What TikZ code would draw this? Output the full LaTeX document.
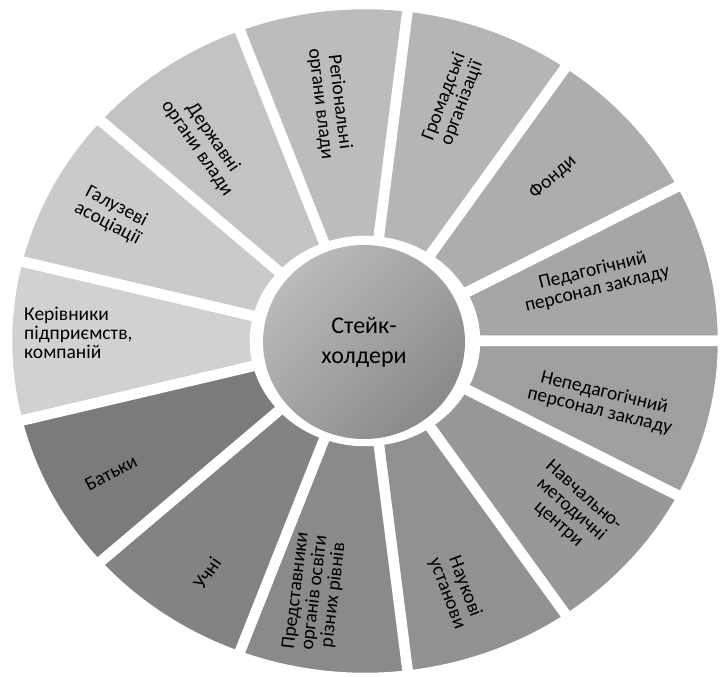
\documentclass[tikz,border=0pt]{standalone}
\usepackage{fontspec}
\setmainfont{Carlito}
\usetikzlibrary{shapes.geometric}

\tikzset{
  seg/.style={draw=white, line width=10.5pt},
  lbl/.style={align=center, inner sep=0pt, font=\fontsize{19.5}{19}\selectfont},
  hub/.style={ellipse, minimum width=202pt, minimum height=194pt, inner sep=0pt,
    top color=black!27, bottom color=black!46, shading angle=45,
    align=center, font=\fontsize{24}{30}\selectfont}
}

\begin{document}
\begin{tikzpicture}[x=1pt, y=1pt]
\useasboundingbox (0,0) rectangle (721,677);

% 13 segments, clockwise from the left one
\begin{scope}[shift={(365,336)}]
\foreach \k in {0,...,12} {
  \pgfmathsetmacro{\lo}{180-\k*360/13-180/13}
  \pgfmathsetmacro{\hi}{180-\k*360/13+180/13}
  \pgfmathsetmacro{\pct}{18+2.8*\k}
  \path[seg, fill=black!\pct] (\lo:110 and 100) -- (\lo:358 and 337)
    arc[start angle=\lo, end angle=\hi, x radius=358, y radius=337]
    -- (\hi:110 and 100)
    arc[start angle=\hi, end angle=\lo, x radius=110, y radius=100] -- cycle;
}
\end{scope}

% centre
\node[hub] (hub) at (364,335) {Стейк-\\холдери};

% labels
\node[lbl, align=left, anchor=west] (kerivnyky) at (24,344) {Керівники\\підприємств,\\компаній};
\node[lbl, rotate=-27.7] (haluzevi) at (112,462) {Галузеві\\асоціації};
\node[lbl, rotate=-55.4] (derzhavni) at (205,534) {Державні\\органи влади};
\node[lbl, rotate=-83.1] (rehionalni) at (330,574) {Регіональні\\органи влади};
\node[lbl, rotate=69.2] (hromadski) at (453,577) {Громадські\\організації};
\node[lbl, rotate=41.5] (fondy) at (553,500) {Фонди};
\node[lbl, rotate=13.8] (pedahohichnyi) at (595,397) {Педагогічний\\персонал закладу};
\node[lbl, rotate=-13.8] (nepedahohichnyi) at (602,275) {Непедагогічний\\персонал закладу};
\node[lbl, rotate=-41.5] (navchalno) at (571,167) {Навчально-\\методичні\\центри};
\node[lbl, rotate=-69.2] (naukovi) at (456,87) {Наукові\\установи};
\node[lbl, rotate=83.1] (predstavnyky) at (315,84) {Представники\\органів освіти\\різних рівнів};
\node[lbl, rotate=55.4] (uchni) at (207,104) {Учні};
\node[lbl, rotate=27.7] (batky) at (111,204) {Батьки};

\end{tikzpicture}
\end{document}
